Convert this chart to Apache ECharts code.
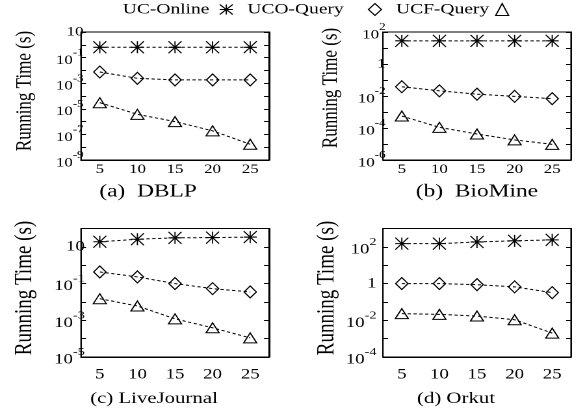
<!DOCTYPE html>
<html>
<head>
<meta charset="utf-8">
<script src="https://cdn.jsdelivr.net/npm/echarts@6/dist/echarts.min.js"></script>
<style>
  html, body { margin: 0; padding: 0; background: #fff; overflow: hidden; }
  /* the source figure has its text stretched sideways, so draw narrow and widen */
  #chart { width: 449px; height: 417px; transform: scaleX(1.3); transform-origin: 0 0; }
</style>
</head>
<body>
<div id="chart"></div>
<script>
// query sizes on the x axis
const sizes = ['5', '10', '15', '20', '25'];
const seriesNames = ['UC-Online', 'UCO-Query', 'UCF-Query'];

// running time in seconds
const dblpOnline = [0.64, 0.64, 0.64, 0.64, 0.64];
const dblpUCO = [0.0075, 0.0024, 0.0018, 0.0018, 0.0018];
const dblpUCF = [3e-5, 3.7e-6, 1e-6, 1.9e-7, 1.7e-8];

const bioOnline = [28, 28, 28, 28, 28];
const bioUCO = [0.038, 0.021, 0.013, 0.0095, 0.0068];
const bioUCF = [5.6e-4, 1.1e-4, 4.2e-5, 1.8e-5, 9.5e-6];

const ljOnline = [19, 26, 31, 32, 34];
const ljUCO = [0.43, 0.23, 0.1, 0.053, 0.035];
const ljUCF = [0.015, 0.006, 0.0012, 3.9e-4, 1.1e-4];

const orkOnline = [150, 150, 185, 213, 240];
const orkUCO = [1.0, 1.0, 0.87, 0.66, 0.32];
const orkUCF = [0.023, 0.021, 0.017, 0.0107, 0.002];

// labelled powers of ten on each y axis
const dblpTicks = [1, -1, -3, -5, -7, -9];
const bioTicks = [2, 0, -2, -4, -6];
const ljTicks = [1, -1, -3, -5];
const orkTicks = [2, 0, -2, -4];

const SX = 1.3;
const SERIF = "'Liberation Serif', serif";
const starPath = 'path://M5 0V10M0 5H10M0 0L10 10M10 0L0 10';
const symbols = [starPath, 'diamond', 'triangle'];
const symbolSizes = [[10, 12], [9.5, 12], [10, 10]];

const panels = [
  { title: '(a)\u00a0 DBLP', data: [dblpOnline, dblpUCO, dblpUCF], ticks: dblpTicks, yMin: -9, yMax: 1,
    left: 81, top: 32, height: 128, fs: 13, sfs: 10, yMargin: -2, xMargin: 3, capX: 148, capY: 192, capFs: 18, ylX: 24.5, ylY: 91, ylFs: 17 },
  { title: '(b)\u00a0 BioMine', data: [bioOnline, bioUCO, bioUCF], ticks: bioTicks, yMin: -6, yMax: 2,
    left: 383, top: 32, height: 128, fs: 13, sfs: 10, yMargin: -2, xMargin: 3, capX: 477, capY: 192, capFs: 18, ylX: 331, ylY: 88, ylFs: 17 },
  { title: '(c) LiveJournal', data: [ljOnline, ljUCO, ljUCF], ticks: ljTicks, yMin: -5, yMax: 2,
    left: 81, top: 228.5, height: 128.5, fs: 14.5, sfs: 11, yMargin: -3, xMargin: 10, capX: 154, capY: 399, capFs: 16, ylX: 24.5, ylY: 288, ylFs: 19 },
  { title: '(d) Orkut', data: [orkOnline, orkUCO, orkUCF], ticks: orkTicks, yMin: -4, yMax: 3,
    left: 383, top: 228.5, height: 128.5, fs: 14.5, sfs: 11, yMargin: 5, xMargin: 10, capX: 456, capY: 399, capFs: 16, ylX: 327, ylY: 288, ylFs: 19 }
];

const grid = [], xAxis = [], yAxis = [], series = [], graphic = [];

panels.forEach((p, i) => {
  grid.push({
    left: p.left / SX, top: p.top, width: 188 / SX, height: p.height,
    show: true, borderColor: '#000', borderWidth: 1, backgroundColor: 'transparent'
  });
  xAxis.push({
    gridIndex: i, type: 'category', data: sizes, boundaryGap: true,
    axisLine: { onZero: false, lineStyle: { color: '#000', width: 1 } },
    axisTick: { inside: true, alignWithLabel: true, length: 5, lineStyle: { color: '#000' } },
    axisLabel: { color: '#000', fontFamily: SERIF, fontSize: p.fs, margin: p.xMargin },
    splitLine: { show: false }
  });
  // "10" with a raised exponent
  const rich = {
    b: { fontFamily: SERIF, fontSize: p.fs, color: '#000', lineHeight: p.fs + 6, verticalAlign: 'bottom' },
    s: { fontFamily: SERIF, fontSize: p.sfs, color: '#000', lineHeight: p.fs + 6, verticalAlign: 'top' }
  };
  yAxis.push({
    gridIndex: i, type: 'value', min: p.yMin, max: p.yMax, interval: 1,
    axisLine: { show: true, onZero: false, lineStyle: { color: '#000', width: 1 } },
    axisTick: { show: true, inside: true, length: 5 / SX, lineStyle: { color: '#000' } },
    axisLabel: {
      margin: p.yMargin, color: '#000', fontFamily: SERIF, fontSize: p.fs, rich,
      formatter: v => {
        const e = Math.round(v);
        if (!p.ticks.includes(e)) return '';
        if (e === 1) return '10';
        if (e === 0) return '1';
        return '{b|10}{s|' + e + '}';
      }
    },
    splitLine: { show: false }
  });
  // mirrored ticks on the right edge
  yAxis.push({
    gridIndex: i, type: 'value', position: 'right', min: p.yMin, max: p.yMax, interval: 1,
    axisLine: { show: true, onZero: false, lineStyle: { color: '#000', width: 1 } },
    axisTick: { show: true, inside: true, length: 5 / SX, lineStyle: { color: '#000' } },
    axisLabel: { show: false },
    splitLine: { show: false }
  });
  p.data.forEach((vals, k) => {
    series.push({
      name: seriesNames[k], type: 'line', xAxisIndex: i, yAxisIndex: 2 * i,
      data: vals.map(v => Math.log10(v)),
      symbol: symbols[k], symbolSize: symbolSizes[k],
      itemStyle: { color: 'transparent', borderColor: '#000', borderWidth: 1 },
      lineStyle: { color: '#000', width: 1, type: [2.5, 2] },
      z: 3
    });
  });
  graphic.push({
    type: 'text', x: p.ylX / SX, y: p.ylY, rotation: Math.PI / 2,
    style: { text: 'Running Time (s)', fontFamily: SERIF, fontSize: p.ylFs, fill: '#000',
      textAlign: 'center', textVerticalAlign: 'middle' }
  });
  graphic.push({
    type: 'text', x: p.capX / SX, y: p.capY,
    style: { text: p.title, fontFamily: SERIF, fontSize: p.capFs, fill: '#000',
      textAlign: 'center', textVerticalAlign: 'middle' }
  });
});

// key text comes first, marker after it
const legendPad = [3, 14, 0];
const legend = {
  top: 2, left: 94.4, padding: 0, align: 'right', itemGap: 10.7, itemWidth: 10, itemHeight: 12,
  textStyle: { fontFamily: SERIF, fontSize: 15, color: '#000' },
  data: seriesNames.map((n, k) => ({
    name: n, icon: symbols[k],
    textStyle: { fontFamily: SERIF, fontSize: 15, color: '#000', padding: [0, legendPad[k], 0, 0] },
    itemStyle: { color: 'transparent', borderColor: '#000', borderWidth: 1 }
  }))
};

const chart = echarts.init(document.getElementById('chart'), null, { renderer: 'canvas', devicePixelRatio: 2 });
chart.setOption({
  animation: false,
  backgroundColor: '#fff',
  legend, grid, xAxis, yAxis, series, graphic
});
</script>
</body>
</html>
